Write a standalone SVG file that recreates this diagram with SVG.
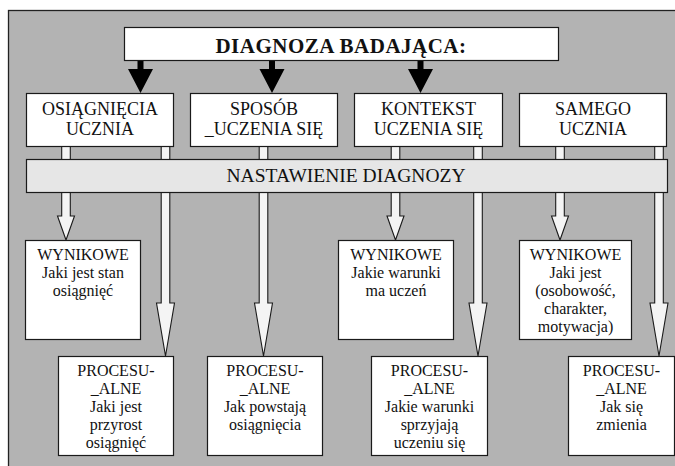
<svg xmlns="http://www.w3.org/2000/svg" width="675" height="466" viewBox="0 0 675 466">
<style>
.bg{fill:#b3b3b3;stroke:#222;stroke-width:1.3}
.box{fill:#fff;stroke:#1a1a1a;stroke-width:1.2}
.bar{fill:#e6e6e6;stroke:#1a1a1a;stroke-width:1.2}
.ha{fill:#f4f4f4;stroke:#1a1a1a;stroke-width:1.1;stroke-linejoin:miter}
.ba{fill:#000;stroke:none}
text{font-family:'Liberation Serif','DejaVu Serif',serif;fill:#111;text-anchor:middle}
.t{font-size:21px;font-weight:bold;letter-spacing:0.5px}
.h{font-size:18px}
.n{font-size:19.5px}
.s{font-size:16px}
</style>
<rect class="bg" x="8.5" y="10.5" width="680" height="470"/>
<g id="connectors">
<path class="ba" d="M137.5,60 V69 H128 L140.5,93 L153,69 H143.5 V60 Z"/>
<path class="ba" d="M269,60 V69 H259.5 L272,93 L284.5,69 H275 V60 Z"/>
<path class="ba" d="M417.5,60 V69 H408 L420.5,93 L433,69 H423.5 V60 Z"/>
<path class="ha" d="M61.7,146 V216 H57.5 L66,240 L74.5,216 H70.3 V146 Z"/>
<path class="ha" d="M391.2,146 V216 H387 L395.5,240 L404,216 H399.8 V146 Z"/>
<path class="ha" d="M555.7,146 V216 H551.5 L560,240 L568.5,216 H564.3 V146 Z"/>
<path class="ha" d="M161.2,146 V303 H156.5 L165.5,356 L174.5,303 H169.8 V146 Z"/>
<path class="ha" d="M259.2,146 V303 H254.5 L263.5,356 L272.5,303 H267.8 V146 Z"/>
<path class="ha" d="M473.7,146 V303 H469 L478,356 L487,303 H482.3 V146 Z"/>
<path class="ha" d="M654.7,146 V303 H650 L659,356 L668,303 H663.3 V146 Z"/>
</g>
<g id="title">
<rect class="box" x="124.5" y="27.5" width="434" height="33"/>
<text class="t" x="341" y="53">DIAGNOZA BADAJĄCA:</text>
</g>
<g id="osiagniecia">
<rect class="box" x="26.5" y="93.5" width="147" height="53"/>
<text class="h" x="100" y="115">OSIĄGNIĘCIA</text>
<text class="h" x="100" y="135">UCZNIA</text>
</g>
<g id="sposob">
<rect class="box" x="190.5" y="93.5" width="147" height="53"/>
<text class="h" x="264" y="115">SPOSÓB</text>
<text class="h" x="264" y="135">_UCZENIA SIĘ</text>
</g>
<g id="kontekst">
<rect class="box" x="354.5" y="93.5" width="148" height="53"/>
<text class="h" x="428.5" y="115">KONTEKST</text>
<text class="h" x="428.5" y="135">UCZENIA SIĘ</text>
</g>
<g id="samego">
<rect class="box" x="519.5" y="93.5" width="147" height="53"/>
<text class="h" x="593" y="115">SAMEGO</text>
<text class="h" x="593" y="135">UCZNIA</text>
</g>
<g id="nastawienie">
<rect class="bar" x="26.5" y="159.5" width="641" height="33"/>
<text class="n" x="346" y="182">NASTAWIENIE DIAGNOZY</text>
</g>
<g id="wyn1">
<rect class="box" x="25.5" y="240.5" width="115" height="99"/>
<text class="s" x="83" y="260">WYNIKOWE</text>
<text class="s" x="83" y="278">Jaki jest stan</text>
<text class="s" x="83" y="296">osiągnięć</text>
</g>
<g id="wyn2">
<rect class="box" x="338.5" y="240.5" width="115" height="99"/>
<text class="s" x="396" y="260">WYNIKOWE</text>
<text class="s" x="396" y="278">Jakie warunki</text>
<text class="s" x="396" y="296">ma uczeń</text>
</g>
<g id="wyn3">
<rect class="box" x="519.5" y="240.5" width="112" height="99"/>
<text class="s" x="575.5" y="260">WYNIKOWE</text>
<text class="s" x="575.5" y="278">Jaki jest</text>
<text class="s" x="575.5" y="296">(osobowość,</text>
<text class="s" x="575.5" y="314">charakter,</text>
<text class="s" x="575.5" y="332">motywacja)</text>
</g>
<g id="proc1">
<rect class="box" x="58.5" y="356.5" width="115" height="99"/>
<text class="s" x="116" y="376">PROCESU-</text>
<text class="s" x="116" y="394">_ALNE</text>
<text class="s" x="116" y="412">Jaki jest</text>
<text class="s" x="116" y="430">przyrost</text>
<text class="s" x="116" y="448">osiągnięć</text>
</g>
<g id="proc2">
<rect class="box" x="207.5" y="356.5" width="115" height="99"/>
<text class="s" x="265" y="376">PROCESU-</text>
<text class="s" x="265" y="394">_ALNE</text>
<text class="s" x="265" y="412">Jak powstają</text>
<text class="s" x="265" y="430">osiągnięcia</text>
</g>
<g id="proc3">
<rect class="box" x="371.5" y="356.5" width="116" height="99"/>
<text class="s" x="429.5" y="376">PROCESU-</text>
<text class="s" x="429.5" y="394">_ALNE</text>
<text class="s" x="429.5" y="412">Jakie warunki</text>
<text class="s" x="429.5" y="430">sprzyjają</text>
<text class="s" x="429.5" y="448">uczeniu się</text>
</g>
<g id="proc4">
<rect class="box" x="568.5" y="356.5" width="106" height="99"/>
<text class="s" x="621.5" y="376">PROCESU-</text>
<text class="s" x="621.5" y="394">_ALNE</text>
<text class="s" x="621.5" y="412">Jak się</text>
<text class="s" x="621.5" y="430">zmienia</text>
</g>
</svg>
